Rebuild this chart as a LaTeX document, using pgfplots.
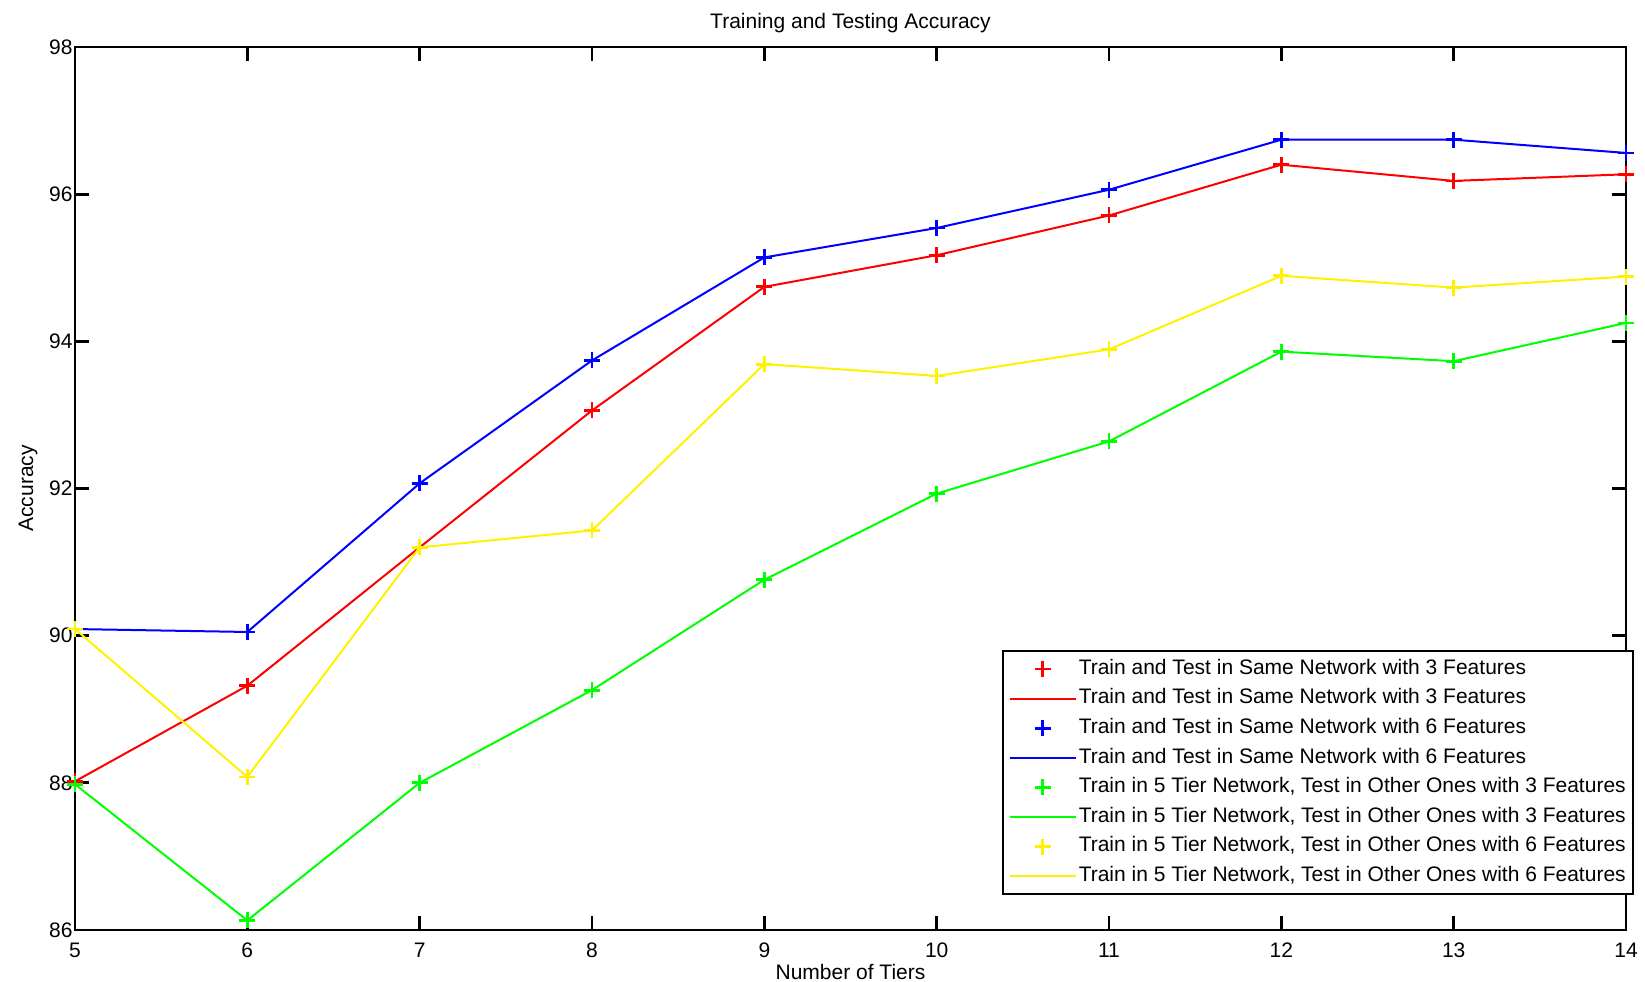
\documentclass[border=0pt]{standalone}
\usepackage{fontspec}
\setmainfont{Liberation Sans}
\usepackage{pgfplots}
\pgfplotsset{compat=1.18}
\usepackage{pgfplotstable}

\newcommand{\myfont}{\fontsize{10.5}{12.6}\selectfont}

\pgfplotstableread{
x red blue green yellow
5 88.02 90.09 87.98 90.09
6 89.32 90.05 86.13 88.08
7 91.20 92.07 88.00 91.20
8 93.06 93.74 89.26 91.43
9 94.74 95.14 90.76 93.69
10 95.17 95.54 91.93 93.53
11 95.71 96.06 92.64 93.89
12 96.40 96.74 93.86 94.89
13 96.18 96.74 93.73 94.73
14 96.27 96.56 94.25 94.88
}\datatable

\pgfplotsset{
  linelegend/.style={legend image code/.code={\draw[##1] (0pt,0pt) -- (33pt,0pt);}},
  marklegend/.style={legend image code/.code={\draw[##1] plot coordinates {(16.5pt,0pt)};}},
  lineplot/.style={#1, line width=1pt, no marks, linelegend},
  markplot/.style={#1, line width=1.4pt, only marks, mark=+, mark size=4pt,
    mark options={line width=1.4pt}, marklegend},
}

\begin{document}
\begin{tikzpicture}
\begin{axis}[
  scale only axis,
  width=775.5pt, height=441.5pt,
  xmin=5, xmax=14, ymin=86, ymax=98,
  xtick={5,6,...,14}, ytick={86,88,...,98},
  tick align=inside, tick pos=both,
  xticklabel pos=lower, yticklabel pos=left,
  major tick length=7pt,
  axis line style={line width=1.4pt},
  every tick/.style={black, line width=1.4pt},
  /pgf/number format/assume math mode=true,
  tick label style={font=\myfont},
  xticklabel style={yshift=-3pt},
  yticklabel style={xshift=2.3pt},
  title={Training and Testing Accuracy},
  title style={font=\myfont, at={(axis description cs:0.5,1)}, anchor=center, yshift=6pt},
  xlabel={Number of Tiers},
  ylabel={Accuracy},
  xlabel style={font=\myfont, at={(axis description cs:0.5,0)}, anchor=center, yshift=-21pt},
  ylabel style={font=\myfont, at={(axis description cs:-0.0303,0.5)}, anchor=center, rotate=0},
  legend cell align=left,
  legend style={font=\myfont, at={(rel axis cs:0.5977,0.3171)}, anchor=north west,
    draw=black, line width=1.2pt, fill=white, inner xsep=2.75pt, inner ysep=1.5pt,
    row sep=0pt,
    nodes={inner xsep=1pt, inner ysep=2pt, text height=8pt, text depth=2.8pt}},
]
\coordinate (ll) at (rel axis cs:0,0);
\coordinate (ur) at (rel axis cs:1,1);
\addplot[markplot=red] table[x=x,y=red] {\datatable};
\addlegendentry{Train and Test in Same Network with 3 Features}
\addplot[lineplot=red] table[x=x,y=red] {\datatable};
\addlegendentry{Train and Test in Same Network with 3 Features}
\addplot[markplot=blue] table[x=x,y=blue] {\datatable};
\addlegendentry{Train and Test in Same Network with 6 Features}
\addplot[lineplot=blue] table[x=x,y=blue] {\datatable};
\addlegendentry{Train and Test in Same Network with 6 Features}
\addplot[markplot=green] table[x=x,y=green] {\datatable};
\addlegendentry{Train in 5 Tier Network, Test in Other Ones with 3 Features}
\addplot[lineplot=green] table[x=x,y=green] {\datatable};
\addlegendentry{Train in 5 Tier Network, Test in Other Ones with 3 Features}
\addplot[markplot=yellow] table[x=x,y=yellow] {\datatable};
\addlegendentry{Train in 5 Tier Network, Test in Other Ones with 6 Features}
\addplot[lineplot=yellow] table[x=x,y=yellow] {\datatable};
\addlegendentry{Train in 5 Tier Network, Test in Other Ones with 6 Features}
\end{axis}
\pgfresetboundingbox
\path ([shift={(-37.5pt,-26pt)}]ll) rectangle ([shift={(9.5pt,23.5pt)}]ur);
\end{tikzpicture}
\end{document}
